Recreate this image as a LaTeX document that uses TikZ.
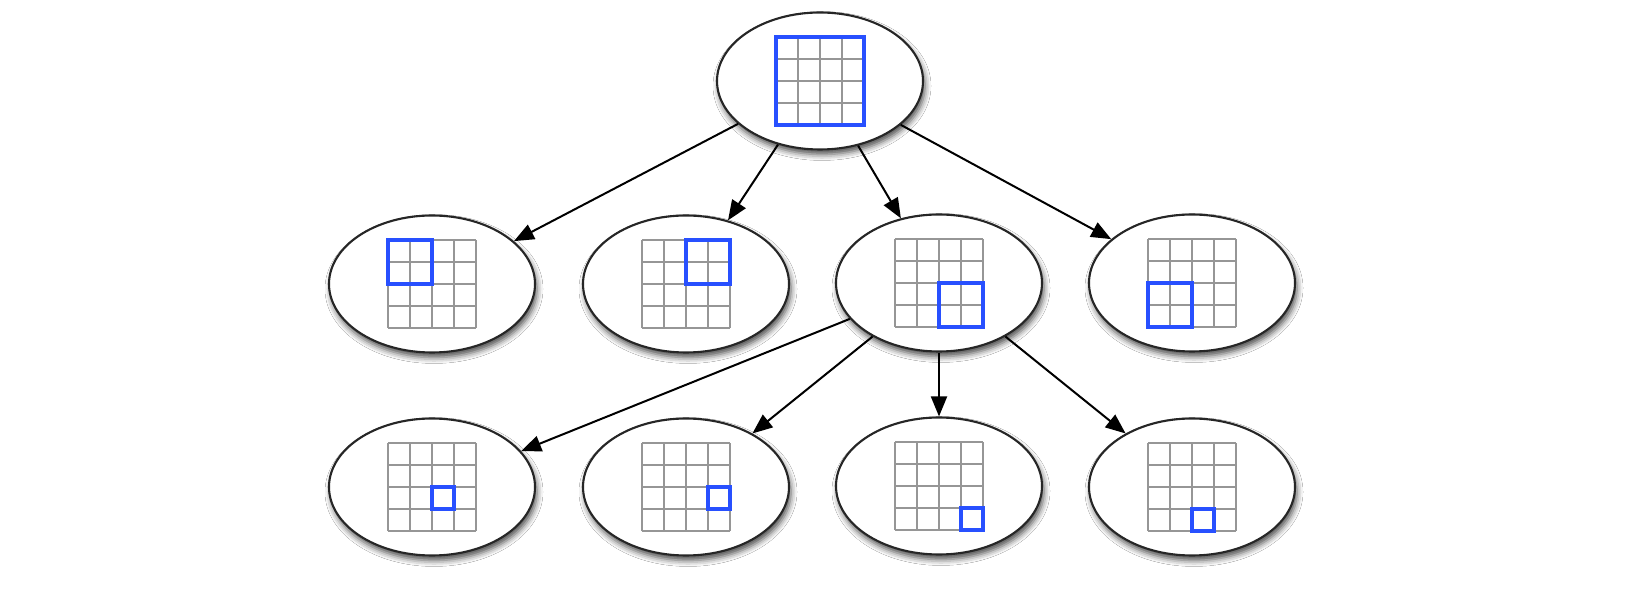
\documentclass[tikz,border=0pt]{standalone}
\usetikzlibrary{shapes.geometric,arrows.meta,calc,shadows.blur}
\definecolor{gridgray}{RGB}{150,150,150}
\definecolor{boxblue}{RGB}{40,80,255}
\tikzset{
  quadnode/.style={ellipse, draw=black!85, line width=2.1pt, fill=white,
    minimum width=206pt, minimum height=137pt, inner sep=0pt,
    blur shadow={shadow xshift=2pt, shadow yshift=-5pt, shadow blur radius=6pt, shadow opacity=70}},
  gridline/.style={draw=gridgray, line width=2pt},
  bluebox/.style={draw=boxblue, line width=4pt, line join=miter},
  link/.style={draw=black, line width=2pt, -{Triangle[length=20pt,width=16pt]}}
}
\begin{document}
\begin{tikzpicture}[x=1pt,y=1pt]
\useasboundingbox[fill=white] (0,0) rectangle (1636,592);
\node[quadnode] (top) at (820,511) {};
\node[quadnode] (m1) at (432,308) {};
\node[quadnode] (m2) at (686,308) {};
\node[quadnode] (m3) at (939,309) {};
\node[quadnode] (m4) at (1192,309) {};
\node[quadnode] (b1) at (432,105) {};
\node[quadnode] (b2) at (686,105) {};
\node[quadnode] (b3) at (939,106) {};
\node[quadnode] (b4) at (1192,105) {};
\foreach \n/\c/\r/\w in {top/0/0/4, m1/0/0/2, m2/2/0/2, m3/2/2/2, m4/0/2/2, b1/2/2/1, b2/3/2/1, b3/3/3/1, b4/2/3/1} {
  \foreach \i in {0,...,4} {
    \draw[gridline] ($(\n.center)+(-44+22*\i,-44)$) -- ++(0,88);
    \draw[gridline] ($(\n.center)+(-44,-44+22*\i)$) -- ++(88,0);
  }
  \draw[bluebox] ($(\n.center)+(-44+22*\c,44-22*\r)$) rectangle ++(22*\w,-22*\w);
}
\foreach \t in {m1,m2,m3,m4} { \draw[link] (top) -- (\t); }
\foreach \t in {b1,b2,b3,b4} { \draw[link] (m3) -- (\t); }
\end{tikzpicture}
\end{document}
